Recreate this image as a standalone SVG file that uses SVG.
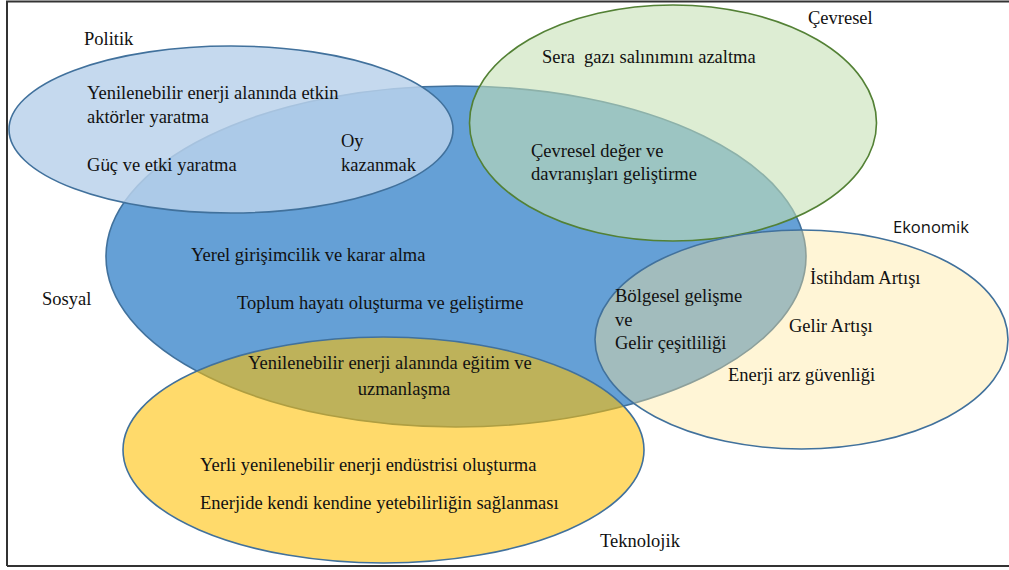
<svg xmlns="http://www.w3.org/2000/svg" width="1009" height="570" viewBox="0 0 1009 570">
<style>
.t{font-family:"Liberation Serif","Times New Roman",serif;font-size:18.5px;fill:#111}
.s{font-family:"Liberation Sans",Arial,sans-serif;font-size:17px}
.lab{font-family:"Liberation Serif","Times New Roman",serif;font-size:18.5px;fill:#111}
.labs{font-family:"Open Sans","Liberation Sans",sans-serif;font-size:16.5px;fill:#111}
.e{stroke-width:1.6}
</style>
<rect x="0" y="0" width="1009" height="570" fill="#fff"/>
<path d="M7 566 V1.5 H1009 M7 566 H1009" fill="none" stroke="#333" stroke-width="2"/>
<g id="sosyal">
<ellipse class="e" cx="456" cy="256.5" rx="350" ry="170.5" fill="#65a0d6" stroke="#41719c"/>
</g>
<g id="politik">
<ellipse class="e" cx="231" cy="129.5" rx="222" ry="83.5" fill="#bad2eb" fill-opacity="0.84" stroke="#41719c"/>
</g>
<g id="cevresel">
<ellipse class="e" cx="673" cy="123" rx="203.5" ry="118" fill="#c5e0b4" fill-opacity="0.58" stroke="#538135"/>
</g>
<g id="ekonomik">
<ellipse class="e" cx="801.5" cy="339.5" rx="206.5" ry="109.5" fill="#ffe699" fill-opacity="0.4" stroke="#41719c"/>
</g>
<g id="teknolojik">
<ellipse class="e" cx="383.5" cy="450" rx="260.5" ry="113" fill="#ffc000" fill-opacity="0.58" stroke="#41719c"/>
</g>
<g id="labels">
<text class="lab" x="84" y="45">Politik</text>
<text class="lab" x="808" y="24">Çevresel</text>
<text class="labs" x="893" y="233">Ekonomik</text>
<text class="lab" x="42" y="305">Sosyal</text>
<text class="lab" x="600" y="547">Teknolojik</text>
</g>
<g id="texts">
<text class="t" x="87" y="99">Yenilenebilir enerji alanında etkin</text>
<text class="t" x="87" y="123">akt<tspan class="s">ö</tspan>rler yaratma</text>
<text class="t" x="87" y="171">G<tspan class="s">ü</tspan>ç ve etki yaratma</text>
<text class="t" x="341" y="147">Oy</text>
<text class="t" x="341" y="171">kazanmak</text>
<text class="t" x="542" y="63" xml:space="preserve">Sera  gazı salınımını azaltma</text>
<text class="t" x="531" y="157">Çevresel değer ve</text>
<text class="t" x="531" y="180">davranışları geliştirme</text>
<text class="t" x="191" y="261">Yerel girişimcilik ve karar alma</text>
<text class="t" x="237" y="309">Toplum hayatı oluşturma ve geliştirme</text>
<text class="t" x="248" y="369">Yenilenebilir enerji alanında eğitim ve</text>
<text class="t" x="404" y="395" text-anchor="middle">uzmanlaşma</text>
<text class="t" x="615" y="302">B<tspan class="s">ö</tspan>lgesel gelişme</text>
<text class="t" x="615" y="326">ve</text>
<text class="t" x="615" y="349">Gelir çeşitliliği</text>
<text class="t" x="810" y="284">İstihdam Artışı</text>
<text class="t" x="789" y="332">Gelir Artışı</text>
<text class="t" x="728" y="381">Enerji arz g<tspan class="s">ü</tspan>venliği</text>
<text class="t" x="200" y="471">Yerli yenilenebilir enerji end<tspan class="s">ü</tspan>strisi oluşturma</text>
<text class="t" x="200" y="509">Enerjide kendi kendine yetebilirliğin sağlanması</text>
</g>
</svg>
